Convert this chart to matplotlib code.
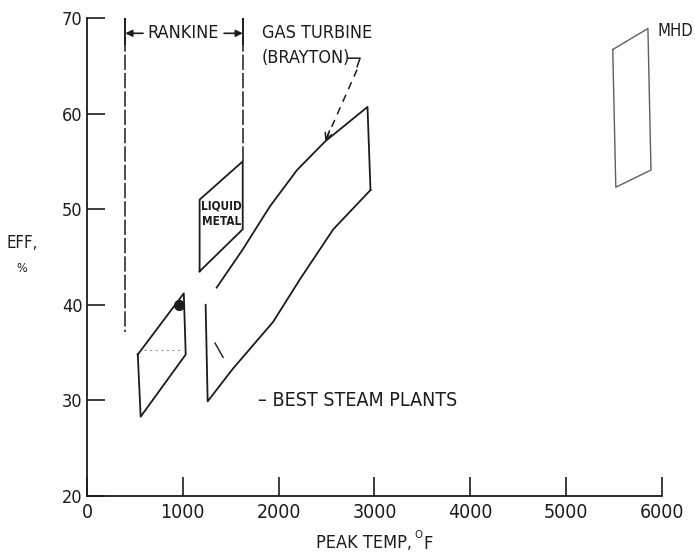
import matplotlib
matplotlib.use('Agg')
import matplotlib.pyplot as plt

plt.rcParams['font.family'] = ['DejaVu Sans']
plt.rcParams['font.stretch'] = 'condensed'

# ---- axis ticks ----
x_ticks = [0, 1000, 2000, 3000, 4000, 5000, 6000]
y_ticks = [20, 30, 40, 50, 60, 70]

# ---- region outlines (peak temp degF, efficiency %) ----
steam_temp = [530, 1010, 1030, 560, 530]
steam_eff = [34.8, 41.2, 34.8, 28.3, 34.8]

liquid_temp = [1175, 1625, 1625, 1175, 1175]
liquid_eff = [43.5, 47.9, 55.0, 51.0, 43.5]

gt_upper_temp = [1353, 1626, 1909, 2192, 2486, 2927, 2958]
gt_upper_eff = [41.8, 45.8, 50.3, 54.1, 57.1, 60.7, 52.0]
gt_lower_temp = [2958, 2570, 2224, 1941, 1521, 1259, 1238]
gt_lower_eff = [52.0, 47.9, 42.7, 38.2, 33.3, 29.9, 40.0]

mhd_temp = [5486, 5853, 5885, 5518, 5486]
mhd_eff = [66.7, 68.9, 54.1, 52.3, 66.7]

rankine_temp = [400, 1625]
rankine_bottom_eff = [37.2, 55.0]

brayton_dash_temp = [2818, 2486]
brayton_dash_eff = [64.6, 57.1]

best_steam_temp = [965]
best_steam_eff = [40.0]

INK = '#1c1c1c'

fig = plt.figure(figsize=(6.95, 5.54), dpi=100)
ax = fig.add_axes([87 / 695, 58 / 554, 575 / 695, 478 / 554])

ax.set_xlim(0, 6000)
ax.set_ylim(20, 70)
for s in ['top', 'right']:
    ax.spines[s].set_visible(False)
for s in ['left', 'bottom']:
    ax.spines[s].set_linewidth(1.3)
    ax.spines[s].set_color(INK)

ax.set_xticks(x_ticks)
ax.set_xticklabels([str(v) for v in x_ticks])
ax.set_yticks(y_ticks)
ax.set_yticklabels([str(v) for v in y_ticks])
ax.tick_params(axis='x', direction='in', length=14, width=1.2, pad=5,
               labelsize=14, colors=INK)
ax.tick_params(axis='y', direction='in', length=13, width=1.2, pad=3,
               labelsize=13, colors=INK)

lw = 1.3
# steam plants parallelogram
ax.plot(steam_temp, steam_eff, color=INK, lw=lw)
ax.plot([600, 1000], [35.3, 35.3], color='#555555', lw=0.8, ls=(0, (2, 3)), alpha=0.6)
ax.plot(best_steam_temp, best_steam_eff, 'o', color=INK, ms=7)

# liquid metal
ax.plot(liquid_temp, liquid_eff, color=INK, lw=lw)
ax.text(1400, 49.5, 'LIQUID\nMETAL', ha='center', va='center', fontsize=8.5,
        fontweight='bold', color=INK, linespacing=1.3)

# gas turbine region
ax.plot(gt_upper_temp, gt_upper_eff, color=INK, lw=lw)
ax.plot(gt_lower_temp, gt_lower_eff, color=INK, lw=lw)
ax.plot([1336, 1420], [36.0, 34.5], color=INK, lw=1.0)

# brayton dashed pointer
ax.plot(brayton_dash_temp, brayton_dash_eff, color=INK, lw=1.1, ls=(0, (5, 4)))
ax.annotate('', xy=(brayton_dash_temp[1], brayton_dash_eff[1]),
            xytext=(2530, 58.2),
            arrowprops=dict(arrowstyle='->', lw=1.1, color=INK, mutation_scale=12,
                            shrinkA=0, shrinkB=0))
ax.plot([2724, 2850, 2818], [65.8, 65.8, 64.9], color=INK, lw=1.1)

# MHD
ax.plot(mhd_temp, mhd_eff, color='#5a625e', lw=1.0)
ax.text(5950, 68.6, 'MHD', ha='left', va='center', fontsize=12, color=INK,
        clip_on=False)

# Rankine bounds
for t, b in zip(rankine_temp, rankine_bottom_eff):
    ax.plot([t, t], [70, b], color=INK, lw=1.1, ls=(0, (10, 2)))
    ax.plot([t, t], [67.3, 70], color=INK, lw=1.3)
ax.text(1007, 68.4, 'RANKINE', ha='center', va='center', fontsize=13, color=INK)
ax.annotate('', xy=(rankine_temp[0], 68.4), xytext=(585, 68.4),
            arrowprops=dict(arrowstyle='-|>', lw=1.2, color=INK, mutation_scale=10,
                            shrinkA=0, shrinkB=0))
ax.annotate('', xy=(rankine_temp[1], 68.4), xytext=(1430, 68.4),
            arrowprops=dict(arrowstyle='-|>', lw=1.2, color=INK, mutation_scale=10,
                            shrinkA=0, shrinkB=0))

# labels
ax.text(1827, 68.4, 'GAS TURBINE', ha='left', va='center', fontsize=13, color=INK)
ax.text(1827, 65.8, '(BRAYTON)', ha='left', va='center', fontsize=13, color=INK)
ax.text(1785, 30.0, '– BEST STEAM PLANTS', ha='left', va='center', fontsize=14,
        color=INK)

fig.text(22 / 695, 1 - 243 / 554, 'EFF,', ha='center', va='center', fontsize=12,
         color=INK)
fig.text(22 / 695, 1 - 268 / 554, '%', ha='center', va='center', fontsize=9,
         color=INK)
fig.text(364 / 695, 1 - 543 / 554, 'PEAK TEMP,', ha='center', va='center',
         fontsize=13, color=INK)
fig.text(418 / 695, 1 - 535 / 554, 'O', ha='center', va='center', fontsize=8,
         color=INK)
fig.text(428 / 695, 1 - 544 / 554, 'F', ha='center', va='center', fontsize=13,
         color=INK)

fig.savefig('out.png', dpi=100, facecolor='white')
